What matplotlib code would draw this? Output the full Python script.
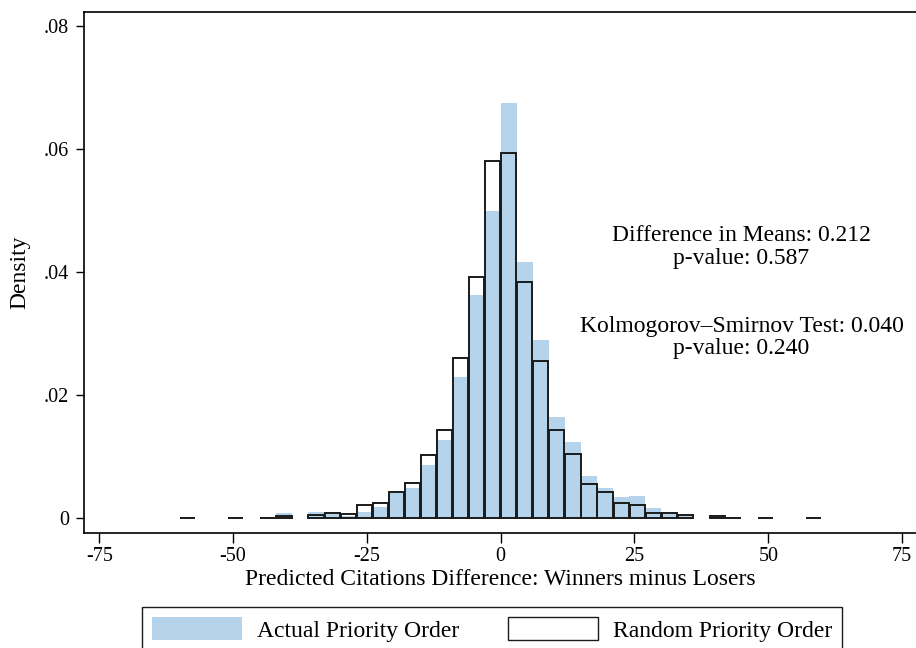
import numpy as np
import matplotlib
matplotlib.use("Agg")
import matplotlib.pyplot as plt
from matplotlib.patches import Patch

plt.rcParams['font.family'] = ['Liberation Serif', 'DejaVu Serif']
plt.rcParams['axes.unicode_minus'] = False

# Histogram bins (left edges, width 3) and densities
bin_left = np.arange(-60, 60, 3)
actual_density = [
    0.0001, 0.0, 0.0, 0.0001, 0.0, 0.0, 0.0008, 0.0, 0.0011, 0.0009,
    0.0004, 0.0011, 0.0018, 0.0043, 0.0049, 0.0087, 0.0127, 0.0229, 0.0363, 0.0499,
    0.0675, 0.0416, 0.0289, 0.0164, 0.0124, 0.0068, 0.0049, 0.0034, 0.0036, 0.0016,
    0.0011, 0.0003, 0.0, 0.0002, 0.0001, 0.0, 0.0001, 0.0, 0.0, 0.0001,
]
random_density = [
    0.0001, 0.0, 0.0, 0.0001, 0.0, 0.0001, 0.0004, 0.0, 0.0006, 0.0008,
    0.0007, 0.0022, 0.0025, 0.0043, 0.0058, 0.0103, 0.0144, 0.0261, 0.0392, 0.0580,
    0.0593, 0.0384, 0.0255, 0.0144, 0.0104, 0.0056, 0.0043, 0.0025, 0.0022, 0.0008,
    0.0008, 0.0005, 0.0, 0.0004, 0.0001, 0.0, 0.0001, 0.0, 0.0, 0.0001,
]
bin_width = 3

x_ticks = [-75, -50, -25, 0, 25, 50, 75]
y_ticks = [0, 0.02, 0.04, 0.06, 0.08]
y_tick_labels = ['0', '.02', '.04', '.06', '.08']

series_labels = ['Actual Priority Order', 'Random Priority Order']
notes = ['Difference in Means: 0.212', 'p-value: 0.587',
         'Kolmogorov\u2013Smirnov Test: 0.040', 'p-value: 0.240']
note_y = [0.0450, 0.0413, 0.0303, 0.0267]
note_x = 45

blue = '#b5d3ea'
dark = '#1a1a1a'

fig = plt.figure(figsize=(9.16, 6.48), dpi=100)
ax = fig.add_axes([84 / 916, 115 / 648, 832 / 916, 521 / 648])

actual = np.array(actual_density)
rand = np.array(random_density)
a_ok = actual > 0
r_ok = rand > 0

# filled bars first, outlined bars on top (empty bins are skipped)
ax.bar(bin_left[a_ok], actual[a_ok], width=bin_width, align='edge',
       color=blue, edgecolor='none', linewidth=0)
ax.bar(bin_left[r_ok] + 0.08, rand[r_ok], width=bin_width - 0.16, align='edge',
       facecolor='none', edgecolor=dark, linewidth=1.4)

for txt, yy in zip(notes, note_y):
    ax.text(note_x, yy, txt, ha='center', va='baseline', fontsize=17)

ax.set_xlim(-77.86, 77.6)
ax.set_ylim(-0.00239, 0.08228)
ax.set_xticks(x_ticks)
ax.set_yticks(y_ticks)
ax.set_yticklabels(y_tick_labels)
ax.tick_params(axis='x', length=7.2, width=1.0, pad=3, labelsize=14.5)
ax.tick_params(axis='y', length=5.8, width=1.0, pad=5, labelsize=14.5)

ax.set_xlabel('Predicted Citations Difference: Winners minus Losers', fontsize=17, labelpad=2)
ax.set_ylabel('Density', fontsize=17, labelpad=10)

for side in ['left', 'bottom', 'top']:
    ax.spines[side].set_linewidth(1.2)
ax.spines['right'].set_visible(False)

handles = [Patch(facecolor=blue, edgecolor='none'),
           Patch(facecolor='white', edgecolor=dark, linewidth=1.0)]
leg = fig.legend(handles, series_labels, ncol=2, loc='upper center',
                 bbox_to_anchor=(492 / 916, 1 - 607 / 648), borderaxespad=0,
                 fontsize=17, handlelength=3.8, handleheight=1.15,
                 handletextpad=0.64, columnspacing=2.08, borderpad=0.42,
                 fancybox=False, framealpha=1, edgecolor=dark)
leg.get_frame().set_linewidth(1.0)

fig.savefig('out.png', dpi=100)
